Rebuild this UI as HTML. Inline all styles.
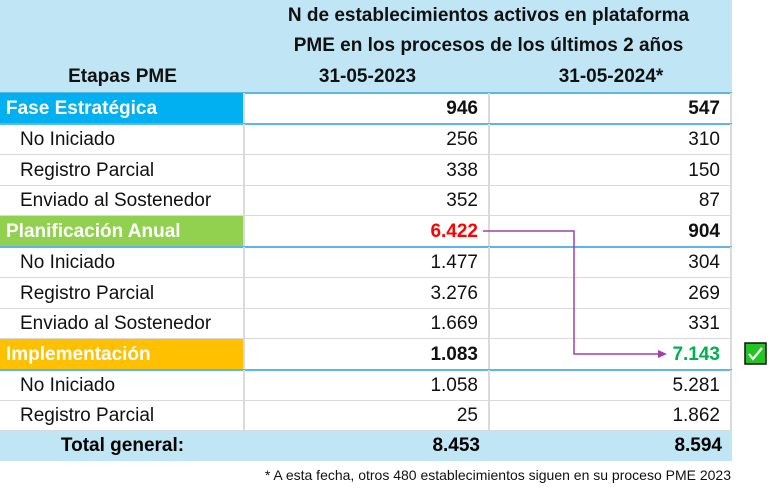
<!DOCTYPE html>
<html><head><meta charset="utf-8"><style>
body{margin:0;width:783px;height:496px;background:#fff;font-family:"Liberation Sans",sans-serif;position:relative;overflow:hidden}
.hdr{position:absolute;left:0;top:0;width:732px;height:92px;background:#C0E6F5;border-bottom:2px solid #5BB8E6}
.ht{position:absolute;font-weight:bold;font-size:19px;color:#111;text-align:center}
.row{position:absolute;left:0;width:732px;height:30px;border-bottom:1px solid #DADADA;font-size:19px;color:#111}
.row div{position:absolute;top:0;height:30px;line-height:31px}
.c1{left:0;width:245px;border-right:2px solid #DADADA;box-sizing:border-box;padding-left:20px}
.c2{left:245px;width:245px;border-right:2px solid #DADADA;box-sizing:border-box;text-align:right;padding-right:10px}
.c3{left:490px;width:242px;box-sizing:border-box;text-align:right;padding-right:10px;border-right:2px solid #DADADA}
.cat{font-weight:bold;border-bottom:2px solid #5BB8E6}
.cat .c1{color:#fff;padding-left:6px}
.tot{position:absolute;left:0;top:431px;width:732px;height:30px;background:#C0E6F5;font-weight:bold;font-size:19px}
.tot div{position:absolute;top:0;line-height:30px}
</style></head><body>
<div class="hdr"></div>
<div class="ht" style="left:245px;width:487px;top:5px">N de establecimientos activos en plataforma</div>
<div class="ht" style="left:245px;width:487px;top:35px">PME en los procesos de los últimos 2 años</div>
<div class="ht" style="left:0;width:245px;top:66px">Etapas PME</div>
<div class="ht" style="left:245px;width:245px;top:66px">31-05-2023</div>
<div class="ht" style="left:490px;width:242px;top:66px">31-05-2024*</div>

<div class="row cat" style="top:93px"><div class="c1" style="background:#00B0F0">Fase Estratégica</div><div class="c2">946</div><div class="c3">547</div></div>
<div class="row" style="top:124px"><div class="c1">No Iniciado</div><div class="c2">256</div><div class="c3">310</div></div>
<div class="row" style="top:155px"><div class="c1">Registro Parcial</div><div class="c2">338</div><div class="c3">150</div></div>
<div class="row" style="top:185px"><div class="c1">Enviado al Sostenedor</div><div class="c2">352</div><div class="c3">87</div></div>
<div class="row cat" style="top:216px"><div class="c1" style="background:#92D050">Planificación Anual</div><div class="c2" style="color:#FF0000">6.422</div><div class="c3">904</div></div>
<div class="row" style="top:247px"><div class="c1">No Iniciado</div><div class="c2">1.477</div><div class="c3">304</div></div>
<div class="row" style="top:278px"><div class="c1">Registro Parcial</div><div class="c2">3.276</div><div class="c3">269</div></div>
<div class="row" style="top:308px"><div class="c1">Enviado al Sostenedor</div><div class="c2">1.669</div><div class="c3">331</div></div>
<div class="row cat" style="top:339px"><div class="c1" style="background:#FFC000">Implementación</div><div class="c2">1.083</div><div class="c3" style="color:#00B050">7.143</div></div>
<div class="row" style="top:370px"><div class="c1">No Iniciado</div><div class="c2">1.058</div><div class="c3">5.281</div></div>
<div class="row" style="top:400px"><div class="c1">Registro Parcial</div><div class="c2">25</div><div class="c3">1.862</div></div>
<div class="tot"><div style="left:0;width:245px;text-align:center">Total general:</div><div style="left:245px;width:235px;text-align:right">8.453</div><div style="left:490px;width:232px;text-align:right">8.594</div></div>
<div style="position:absolute;right:52px;top:467px;font-size:14px;color:#111">* A esta fecha, otros 480 establecimientos siguen en su proceso PME 2023</div>

<svg style="position:absolute;left:0;top:0" width="783" height="496">
<polyline points="483,231 574,231 574,354 660,354" fill="none" stroke="#A040A8" stroke-width="1.5"/>
<polygon points="667,354 658,350 658,358" fill="#A040A8"/>
<rect x="745" y="343" width="21" height="21" fill="#22C522" stroke="#111" stroke-width="1.5"/>
<polyline points="749,354 753,359 762,348" fill="none" stroke="#fff" stroke-width="2.2"/>
</svg>
</body></html>
